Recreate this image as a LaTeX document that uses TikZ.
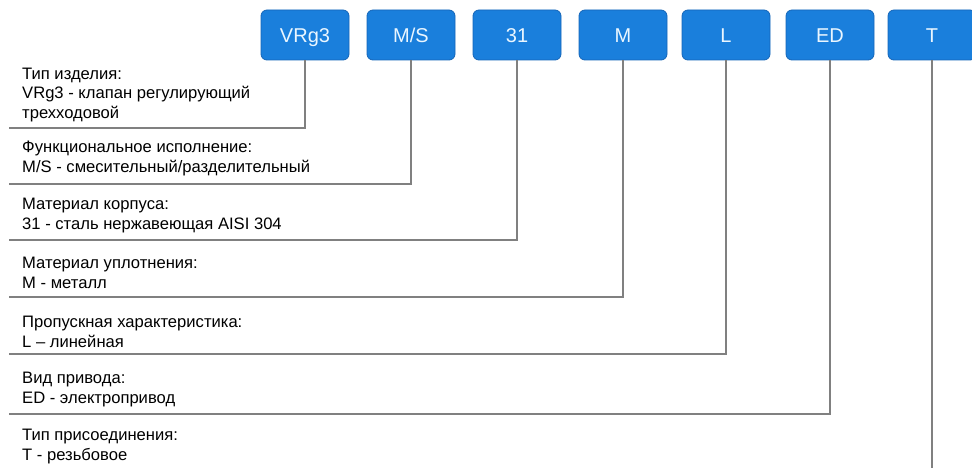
\documentclass[tikz,border=0pt]{standalone}
\usepackage{fontspec}
\setmainfont{Liberation Sans}
\definecolor{codeblue}{HTML}{1A7FDC}
\definecolor{codeedge}{HTML}{1565B8}
\definecolor{codetext}{HTML}{EAF6FF}
\definecolor{linegray}{HTML}{808080}

\begin{document}
\begin{tikzpicture}[x=1pt,y=-1pt]
\tikzset{code/.style = {shape=rectangle,rounded corners=6pt,draw=codeedge,fill=codeblue,text=codetext,
    minimum width=88pt,minimum height=50pt,line width=0.8pt,text height=14.3pt,text depth=0pt,
    font=\fontsize{20}{24}\selectfont},
  desc/.style = {anchor=base west,align=left,inner sep=0pt,font=\fontsize{16.6}{19.5}\selectfont},
  link/.style = {draw=linegray,line width=1.3pt}}
\useasboundingbox (0,0) rectangle (972,468);
% code boxes
\foreach \x/\name/\lbl in {305/vrg/VRg3,411/ms/{M/S},517/mat/31,623/seal/M,726/flow/L,830/ed/ED,932/tt/T} {
    \node[code] (\name) at (\x,35) {\lbl};
}
% descriptions (placed at the baseline of their last line)
\node[desc] (type) at (22,118.5) {Тип изделия:\\VRg3 - клапан регулирующий\\трехходовой};
\node[desc] (func) at (22,172) {Функциональное исполнение:\\M/S - смесительный/разделительный};
\node[desc] (body) at (22,229) {Материал корпуса:\\31 - сталь нержавеющая AISI 304};
\node[desc] (gasket) at (22,288) {Материал уплотнения:\\M - металл};
\node[desc] (kv) at (22,347) {Пропускная характеристика:\\L – линейная};
\node[desc] (act) at (22,403) {Вид привода:\\ED - электропривод};
\node[desc] (conn) at (22,460) {Тип присоединения:\\T - резьбовое};
% leaders
\foreach \name/\y [count=\i] in {vrg/128,ms/184,mat/240,seal/297,flow/354,ed/414} {
    \coordinate (e\i) at (9,\y);
    \draw[link] (\name.south) |- (e\i);
}
\coordinate (e7) at (932,468);
\draw[link] (tt.south) -- (e7);
\end{tikzpicture}
\end{document}
